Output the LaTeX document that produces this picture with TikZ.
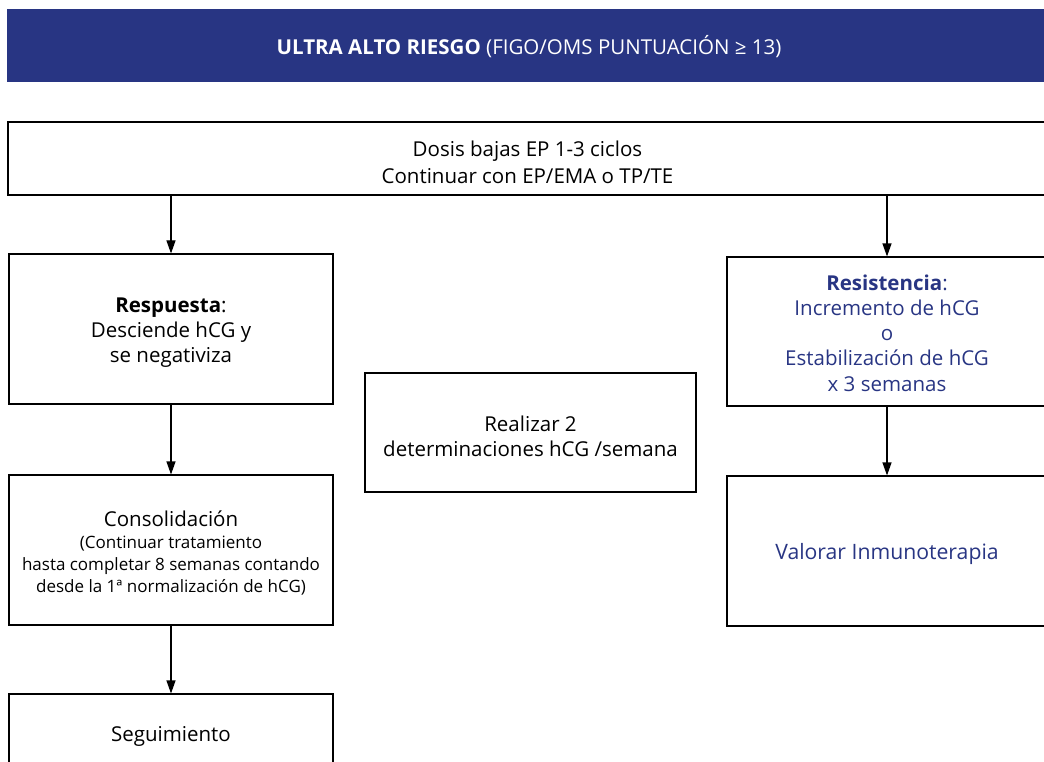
\documentclass[tikz,border=0pt]{standalone}
\usepackage{fontspec}
\setmainfont{Open Sans}
\usetikzlibrary{arrows.meta}
\definecolor{navy}{RGB}{40,53,131}
\newcommand{\smallnote}{\fontsize{17}{20}\selectfont}
\tikzset{
  box/.style={draw=black, line width=1.1pt, rectangle, inner sep=0pt},
  txt/.style={align=center, inner sep=0pt, font=\fontsize{20.5}{25.3}\selectfont},
  arr/.style={draw=black, line width=1.1pt, -{Triangle[length=13pt,width=9pt]}},
}
\begin{document}
\begin{tikzpicture}[x=1pt,y=-1pt]
\useasboundingbox (0,0) rectangle (1044,762);
% title band
\node[fill=navy, minimum width=1040pt, minimum height=73pt, inner sep=0pt] (title) at (527,45.5) {};
\node[txt, text=white] (title-t) at (529,47)
  {\textbf{ULTRA ALTO RIESGO} (FIGO/OMS PUNTUACIÓN ≥ 13)};
% first line of treatment
\node[box, minimum width=1039pt, minimum height=73pt] (start) at (527.5,158.5) {};
\node[txt, font=\fontsize{20.5}{26.5}\selectfont] (start-t) at (527.5,162.5)
  {Dosis bajas EP 1-3 ciclos\\Continuar con EP/EMA o TP/TE};
% left branch
\node[box, minimum width=324pt, minimum height=150pt] (resp) at (171,329) {};
\node[txt] (resp-t) at (171,332.5)
  {\textbf{Respuesta}:\\Desciende hCG y\\se negativiza};
\node[box, minimum width=324pt, minimum height=150pt] (cons) at (171,550) {};
\node[txt] (cons-t) at (171,553)
  {Consolidación\\[-2.5pt]\smallnote (Continuar tratamiento\\[-3.3pt]\smallnote hasta completar 8 semanas contando\\[-3.3pt]\smallnote desde la 1ª normalización de hCG)};
\node[box, minimum width=324pt, minimum height=78pt] (seg) at (171,733) {};
\node[txt] (seg-t) at (171,736.5) {Seguimiento};
% centre note
\node[box, minimum width=331pt, minimum height=119pt] (det) at (530.5,432.5) {};
\node[txt] (det-t) at (530.5,436) {Realizar 2\\determinaciones hCG /semana};
% right branch
\node[box, minimum width=320pt, minimum height=149pt] (res) at (887,331.5) {};
\node[txt, text=navy] (res-t) at (887,333)
  {\textbf{Resistencia}:\\Incremento de hCG\\o\\Estabilización de hCG\\x 3 semanas};
\node[box, minimum width=320pt, minimum height=150pt] (inm) at (887,551) {};
\node[txt, text=navy, font=\fontsize{21.2}{26}\selectfont] (inm-t) at (887,553.5) {Valorar Inmunoterapia};
% connectors
\draw[arr] (start.south -| resp.north) -- (resp.north);
\draw[arr] (start.south -| res.north) -- (res.north);
\draw[arr] (resp.south) -- (cons.north);
\draw[arr] (cons.south) -- (seg.north);
\draw[arr] (res.south) -- (inm.north);
\end{tikzpicture}
\end{document}
